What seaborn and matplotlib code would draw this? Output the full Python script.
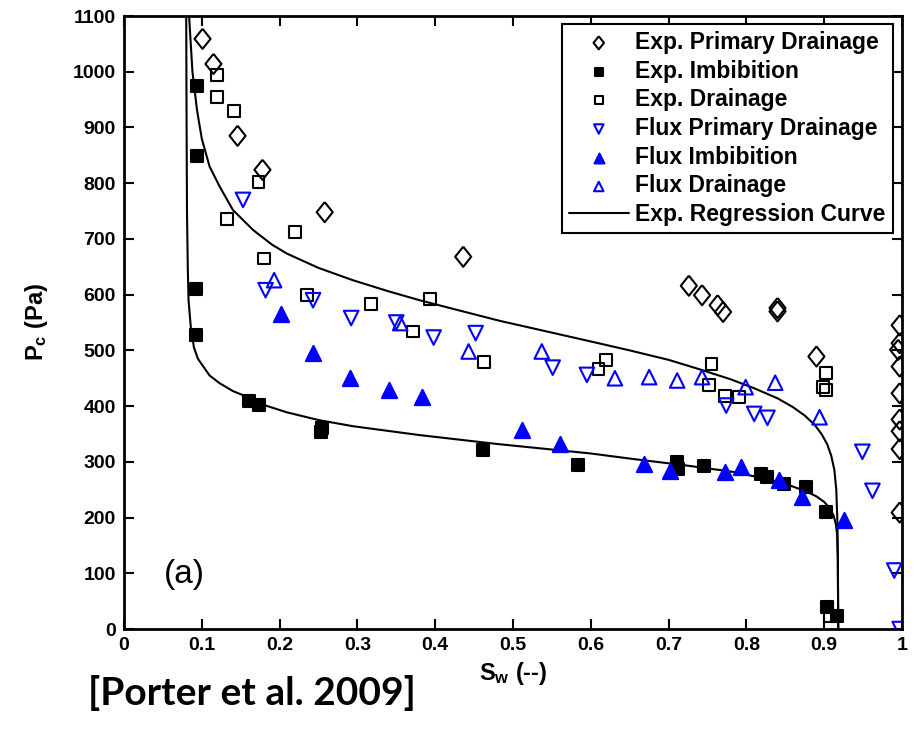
import numpy as np
import seaborn as sns
import matplotlib.pyplot as plt

# Exp. Primary Drainage (open diamonds)
epd_sw = [0.101, 0.115, 0.146, 0.178, 0.258, 0.436, 0.726, 0.743, 0.763, 0.770, 0.840, 0.840, 0.890,
          0.997, 0.997, 0.995, 0.997, 0.997, 0.997, 0.997, 0.997, 0.997]
epd_pc = [1059, 1014, 885, 824, 748, 668, 616, 599, 581, 569, 576, 570, 489,
          545, 513, 501, 471, 423, 376, 355, 323, 209]

# Exp. Imbibition (filled squares)
ei_sw = [0.094, 0.094, 0.093, 0.093, 0.161, 0.174, 0.255, 0.253, 0.461, 0.584, 0.711, 0.712, 0.746,
         0.819, 0.827, 0.848, 0.877, 0.902, 0.903, 0.917]
ei_pc = [974, 849, 610, 527, 409, 402, 361, 354, 321, 294, 300, 288, 292,
         278, 273, 261, 254, 210, 40, 23]

# Exp. Drainage (open squares)
ed_sw = [0.120, 0.120, 0.141, 0.173, 0.132, 0.220, 0.180, 0.235, 0.317, 0.393, 0.371, 0.463, 0.620, 0.610,
         0.755, 0.752, 0.772, 0.790, 0.902, 0.898, 0.902, 0.907]
ed_pc = [994, 954, 930, 802, 736, 712, 665, 599, 583, 592, 534, 479, 483, 466,
         475, 438, 418, 416, 460, 435, 429, 23]

# Flux Primary Drainage (open down triangles)
fpd_sw = [0.153, 0.182, 0.243, 0.292, 0.350, 0.398, 0.452, 0.551, 0.595, 0.774, 0.810, 0.827,
          0.949, 0.962, 0.990, 0.997]
fpd_pc = [770, 608, 590, 558, 550, 523, 531, 469, 456, 401, 386, 379,
          318, 248, 105, 0]

# Flux Imbibition (filled up triangles)
fi_sw = [0.202, 0.243, 0.290, 0.340, 0.383, 0.512, 0.560, 0.668, 0.702, 0.773, 0.793, 0.842, 0.871, 0.926]
fi_pc = [565, 495, 450, 429, 417, 357, 332, 297, 284, 281, 291, 267, 237, 196]

# Flux Drainage (open up triangles)
fd_sw = [0.193, 0.355, 0.443, 0.537, 0.631, 0.675, 0.711, 0.743, 0.799, 0.837, 0.894]
fd_pc = [626, 549, 498, 498, 450, 452, 446, 452, 434, 442, 380]

# regression curves
drain_sw = [0.0837, 0.088, 0.094, 0.100, 0.110, 0.123, 0.140, 0.166, 0.190, 0.209, 0.250, 0.294, 0.340,
            0.380, 0.430, 0.483, 0.540, 0.600, 0.650, 0.700, 0.740, 0.780, 0.810, 0.840, 0.860, 0.875,
            0.888, 0.897, 0.904, 0.909, 0.913, 0.9155, 0.917, 0.9175, 0.918]
drain_pc = [1100, 1000, 930, 880, 830, 794, 752, 716, 690, 674, 648, 626, 606,
            590, 572, 553, 535, 516, 500, 483, 466, 448, 432, 414, 398, 383,
            366, 349, 331, 311, 286, 250, 190, 120, 0]

imb_sw = [0.0800, 0.0805, 0.0810, 0.0820, 0.0830, 0.0860, 0.090, 0.095, 0.102, 0.110, 0.123, 0.140, 0.161,
          0.180, 0.209, 0.250, 0.294, 0.380, 0.480, 0.600, 0.655, 0.720, 0.783, 0.830, 0.855, 0.875,
          0.890, 0.900, 0.907, 0.912, 0.915, 0.9165, 0.9175, 0.918]
imb_pc = [1100, 900, 750, 650, 590, 540, 505, 485, 471, 455, 441, 427, 415,
          402, 389, 375, 364, 348, 332, 315, 305, 294, 282, 268, 258, 248,
          238, 228, 217, 204, 188, 170, 130, 0]

x_ticks = [0, 0.1, 0.2, 0.3, 0.4, 0.5, 0.6, 0.7, 0.8, 0.9, 1]
y_ticks = [0, 100, 200, 300, 400, 500, 600, 700, 800, 900, 1000, 1100]

sns.set_theme(style="ticks")
plt.rcParams['font.family'] = ['Liberation Sans', 'DejaVu Sans']
plt.rcParams['font.weight'] = 'bold'
plt.rcParams['text.color'] = 'black'
plt.rcParams['axes.labelcolor'] = 'black'
plt.rcParams['xtick.color'] = 'black'
plt.rcParams['ytick.color'] = 'black'

fig = plt.figure(figsize=(9.21, 7.41), dpi=100)
ax = fig.add_axes([0.1346, 0.1511, 0.8448, 0.8273])

blue = '#0000ff'
tall_diamond = [(0, 1), (0.8, 0), (0, -1), (-0.8, 0), (0, 1)]


def pts(x, y, marker, size, color, filled, label):
    sns.scatterplot(x=x, y=y, marker=marker, s=size, color=color, edgecolor=color,
                    linewidth=1.5, label=label, ax=ax, zorder=3)
    if not filled:
        ax.collections[-1].set_facecolor('none')


pts(epd_sw, epd_pc, tall_diamond, 210, 'black', False, 'Exp. Primary Drainage')
pts(ei_sw, ei_pc, 's', 80, 'black', True, 'Exp. Imbibition')
pts(ed_sw, ed_pc, 's', 72, 'black', False, 'Exp. Drainage')
pts(fpd_sw, fpd_pc, 'v', 110, blue, False, 'Flux Primary Drainage')
pts(fi_sw, fi_pc, '^', 120, blue, True, 'Flux Imbibition')
pts(fd_sw, fd_pc, '^', 110, blue, False, 'Flux Drainage')

sns.lineplot(x=drain_sw, y=drain_pc, sort=False, estimator=None, color='black', linewidth=1.5,
             label='Exp. Regression Curve', ax=ax, zorder=2)
sns.lineplot(x=imb_sw, y=imb_pc, sort=False, estimator=None, color='black', linewidth=1.5,
             ax=ax, zorder=2)

ax.set_xlim(0, 1)
ax.set_ylim(0, 1100)
ax.set_xticks(x_ticks)
ax.set_xticklabels([f'{t:g}' for t in x_ticks], fontweight='bold', fontsize=14)
ax.set_yticks(y_ticks)
ax.set_yticklabels([str(t) for t in y_ticks], fontweight='bold', fontsize=14)
ax.tick_params(direction='in', length=7, width=1.5, top=True, right=True, pad=6, colors='black')
for sp in ax.spines.values():
    sp.set_linewidth(2)
    sp.set_color('black')

ax.set_xlabel(r'$\mathregular{S_w}$ (--)', fontweight='bold', fontsize=17, labelpad=4)
ax.set_ylabel(r'$\mathregular{P_c}$ (Pa)', fontweight='bold', fontsize=17, labelpad=16)

ax.text(0.077, 97, '(a)', fontsize=24, fontweight='normal', ha='center', va='center')

handles, labels = ax.get_legend_handles_labels()
leg = ax.legend(handles, labels, loc='upper right', bbox_to_anchor=(0.988, 0.987), fontsize=16.5,
                markerscale=0.65, labelspacing=0.25, handlelength=2.6, handletextpad=0.3,
                borderpad=0.3, borderaxespad=0, fancybox=False, framealpha=1, edgecolor='black')
leg.get_frame().set_linewidth(1.5)
for t in leg.get_texts():
    t.set_fontweight('bold')

fig.text(0.0955, 0.065, '[Porter et al. 2009]', fontsize=28, fontweight='bold',
         fontfamily=['Lato', 'DejaVu Sans'], ha='left', va='center')

fig.savefig('out.png', dpi=100)
